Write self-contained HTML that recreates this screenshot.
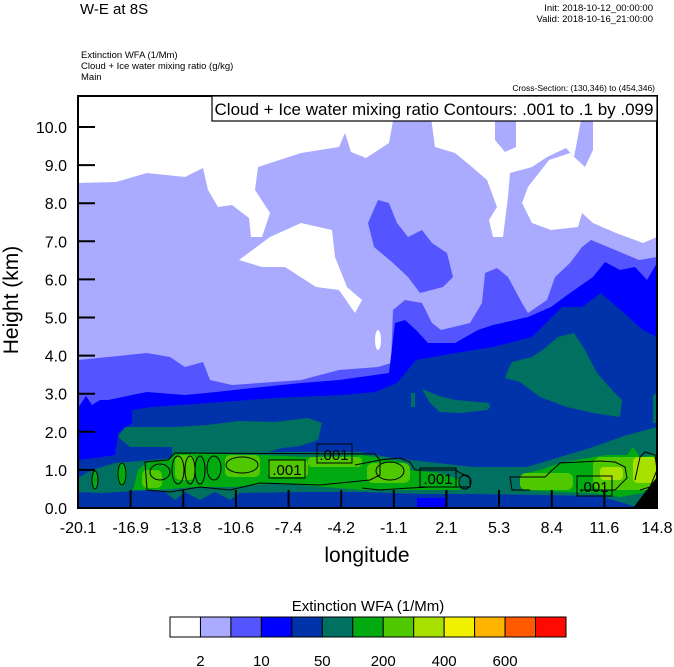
<!DOCTYPE html>
<html><head><meta charset="utf-8"><style>
html,body{margin:0;padding:0;background:#fff;}
svg{display:block;font-family:"Liberation Sans",sans-serif;}
</style></head><body>
<svg id="chart" width="674" height="667" viewBox="0 0 674 667">
<text x="80" y="14" font-size="15">W-E at 8S</text>
<text x="653" y="11" font-size="9.5" text-anchor="end">Init: 2018-10-12_00:00:00</text>
<text x="653" y="22" font-size="9.5" text-anchor="end">Valid: 2018-10-16_21:00:00</text>
<text x="81" y="58" font-size="9.5">Extinction WFA   (1/Mm)</text>
<text x="81" y="69" font-size="9.5">Cloud + Ice water mixing ratio   (g/kg)</text>
<text x="81" y="80" font-size="9.5">Main</text>
<text x="655" y="91" font-size="8.5" text-anchor="end">Cross-Section: (130,346) to (454,346)</text>

<defs><clipPath id="pc"><rect x="78" y="96" width="579" height="412"/></clipPath></defs>
<g clip-path="url(#pc)">
<rect x="78" y="96" width="579" height="412" fill="#ffffff"/>
<polygon fill="#aaaaff" points="78,183 116,182 147,173 185,177 203,168 208,190 218,207 232,205 249,218 251,237 262,237 270,213 255,190 258,167 301,153 339,147 345,133 351,152 366,158 389,143 395,110 430,110 435,147 455,153 472,167 487,180 497,207 489,220 493,237 503,237 508,197 510,173 532,167 547,157 566,148 574,157 583,110 593,110 593,150 585,167 570,153 549,160 528,187 522,203 532,223 551,230 578,227 582,213 593,223 616,233 643,243 657,237 657,508 78,508"/>
<polygon fill="#aaaaff" points="495,110 516,110 516,147 505,152 495,140"/>
<polygon fill="#ffffff" points="239,260 270,237 301,223 332,230 335,257 347,287 362,300 355,313 339,290 316,287 285,267 262,267"/>
<ellipse cx="378" cy="340" rx="3" ry="10" fill="#fff"/>
<polygon fill="#5555ff" points="78,360 108,357 147,353 170,357 185,367 203,362 210,380 232,385 301,380 339,370 378,367 391,363 393,310 405,300 422,303 432,323 441,330 470,323 482,303 485,273 497,268 508,277 522,303 528,313 547,300 555,277 570,263 582,247 591,240 608,247 639,260 657,257 657,508 78,508"/>
<polygon fill="#5555ff" points="378,200 389,203 397,223 408,237 422,230 432,243 447,253 453,277 443,287 420,293 408,277 393,263 374,247 368,223"/>
<polygon fill="#0000ff" points="78,408 86,396 92,405 100,400 108,400 132,395 147,392 185,395 216,392 262,387 301,383 339,380 389,373 395,323 405,320 416,330 428,343 455,343 478,330 493,325 528,317 551,307 570,293 593,277 605,262 620,270 635,267 647,280 657,263 657,508 78,508"/>
<polygon fill="#0033aa" points="78,460 95,458 115,455 118,433 132,423 132,410 152,407 208,403 275,398 342,395 375,392 397,383 416,360 455,353 493,347 532,337 562,307 582,307 601,293 624,313 643,330 657,337 657,508 78,508"/>
<polygon fill="#007060" points="78,492 78,478 92,470 115,463 150,460 172,458 172,447 130,447 118,437 125,427 175,427 208,425 238,421 275,422 308,418 322,423 318,440 300,446 282,448 268,452 360,452 393,458 473,467 527,467 560,457 593,447 627,435 657,427 657,495 637,507 600,496 540,495 470,494 420,494 360,492 300,492 240,493 230,500 215,492 200,500 185,492 175,500 165,492 150,490 120,492 100,493"/>
<polygon fill="#007060" points="508,370 512,362 532,357 545,348 558,337 574,333 585,350 597,373 612,390 622,400 620,417 593,413 567,407 540,397 520,382 505,378"/>
<polygon fill="#007060" points="422,389 439,396 455,400 489,403 490,407 487,410 460,413 440,412 430,403"/>
<polygon fill="#007060" points="411,393 415,393 415,407 411,407"/>
<polygon fill="#007060" points="653,395 657,393 657,423 653,423"/>
<rect x="417" y="498" width="30" height="10" fill="#0000ff"/>
<polygon fill="#00aa10" points="133,490 138,470 147,462 168,460 175,453 262,455 308,457 362,455 403,462 410,470 440,473 460,480 460,490 410,490 362,490 275,483 235,487 192,487 158,490"/>
<polygon fill="#00aa10" points="520,480 527,473 540,470 560,463 593,457 607,455 627,455 633,447 640,457 657,455 657,477 643,493 620,497 593,493 560,492 523,490"/>
<ellipse cx="95" cy="480" rx="3" ry="10" fill="#00aa10"/>
<ellipse cx="122" cy="474" rx="5" ry="12" fill="#00aa10"/>
<g fill="#50c800">
<rect x="225" y="455" width="35" height="22" rx="5"/>
<rect x="175" y="455" width="20" height="25" rx="5"/>
<rect x="142" y="470" width="20" height="18" rx="5"/>
<rect x="268" y="460" width="40" height="17" rx="4"/>
<rect x="308" y="457" width="54" height="10" rx="4"/>
<rect x="367" y="463" width="43" height="20" rx="6"/>
<rect x="520" y="473" width="53" height="17" rx="6"/>
<rect x="593" y="457" width="64" height="33" rx="8"/>
</g>
<g fill="#a8e000">
<rect x="600" y="467" width="23" height="13" rx="4"/>
<rect x="633" y="457" width="24" height="26" rx="5"/>
</g>
<polygon fill="#000" points="633,508 657,477 657,508"/>
<g fill="none" stroke="#000" stroke-width="1">
<polyline points="147,490 145,462 168,460 175,453 375,454 380,460 380,475 370,480 320,485 260,483 230,490 200,487 170,492 147,490"/>
<polyline points="355,465 380,460 400,458 410,462 415,470 455,470 470,478 470,487 430,487 410,488 380,490 362,488"/>
<ellipse cx="95" cy="480" rx="3" ry="9"/>
<ellipse cx="122" cy="474" rx="4" ry="11"/>
<ellipse cx="160" cy="472" rx="10" ry="8"/>
<ellipse cx="178" cy="470" rx="6" ry="14"/>
<ellipse cx="190" cy="470" rx="5" ry="14"/>
<ellipse cx="200" cy="470" rx="5" ry="14"/>
<ellipse cx="214" cy="468" rx="7" ry="12"/>
<ellipse cx="242" cy="465" rx="16" ry="8"/>
<ellipse cx="390" cy="471" rx="14" ry="9"/>
<ellipse cx="465" cy="482" rx="6" ry="7"/>
<polyline points="530,490 512,490 510,477 545,477 560,463 600,461 615,462 625,467 627,478 615,490 580,490"/>
<polyline points="635,480 640,457 645,452 655,455 657,470 650,487 640,490"/>
</g>
<g>
<rect x="269" y="460" width="36" height="18" fill="none" stroke="#000"/><text x="287" y="475" font-size="15" text-anchor="middle">.001</text>
<rect x="317" y="444" width="35" height="19" fill="none" stroke="#000"/><text x="334" y="460" font-size="15" text-anchor="middle">.001</text>
<rect x="420" y="468" width="36" height="19" fill="none" stroke="#000"/><text x="438" y="484" font-size="15" text-anchor="middle">.001</text>
<rect x="577" y="476" width="35" height="20" fill="none" stroke="#000"/><text x="594" y="492" font-size="15" text-anchor="middle">.001</text>
</g>
</g>
<g id="ticks"></g>
<rect x="78" y="96" width="579" height="412" fill="none" stroke="#000" stroke-width="2"/>
<rect x="212" y="96" width="445" height="25" fill="#fff" stroke="#000" stroke-width="1.2"/>
<text x="434" y="115" font-size="17" text-anchor="middle">Cloud + Ice water mixing ratio Contours: .001 to .1 by .099</text>
<text x="367" y="562" font-size="21" text-anchor="middle">longitude</text>
<text transform="translate(18,300) rotate(-90)" font-size="21" text-anchor="middle">Height (km)</text>
<text x="368" y="611" font-size="15" text-anchor="middle">Extinction WFA  (1/Mm)</text>
<g id="cbar"></g>
</svg>
<script>
const yTickLabels=["0.0","1.0","2.0","3.0","4.0","5.0","6.0","7.0","8.0","9.0","10.0"];
const yTickValues=[0,1,2,3,4,5,6,7,8,9,10];
const xTickLabels=["-20.1","-16.9","-13.8","-10.6","-7.4","-4.2","-1.1","2.1","5.3","8.4","11.6","14.8"];
const cbarColors=["#ffffff","#aaaaff","#5555ff","#0000ff","#0033aa","#007060","#00aa10","#50c800","#a8e000","#f0f000","#ffb400","#ff5a00","#ff0a00"];
const cbarLabels=["2","10","50","200","400","600"];
const NS="http://www.w3.org/2000/svg";
const yScale=v=>508-v*38.1;
const xScale=i=>78+i*579/(xTickLabels.length-1);
const ticks=document.getElementById('ticks');
function mk(tag,attrs,parent){const e=document.createElementNS(NS,tag);for(const k in attrs)e.setAttribute(k,attrs[k]);parent.appendChild(e);return e;}
yTickValues.forEach((v,i)=>{
 const y=yScale(v);
 const l=mk('line',{x1:78,x2:95,y1:y,y2:y,stroke:'#000','stroke-width':2},ticks);
 
 
 const t=mk('text',{x:67,y:y+6,'font-size':16,'text-anchor':'end'},ticks);
 
 
 t.textContent=yTickLabels[i];
});
xTickLabels.forEach((lab,i)=>{
 const x=xScale(i);
 if(i>0&&i<xTickLabels.length-1){
 const l=mk('line',{x1:x,x2:x,y1:508,y2:490,stroke:'#000','stroke-width':2},ticks);
 
 }
 const t=mk('text',{x:x,y:533,'font-size':16,'text-anchor':'middle'},ticks);
 
 
 t.textContent=lab;
});
const cb=document.getElementById('cbar');
const bw=396/cbarColors.length;
cbarColors.forEach((c,i)=>{
 const r=mk('rect',{x:170+i*bw,y:617,width:bw,height:20,fill:c,stroke:'#000','stroke-width':1},cb);
 
 
});
cbarLabels.forEach((lab,i)=>{
 const t=mk('text',{x:170+(1+2*i)*bw,y:666,'font-size':15,'text-anchor':'middle'},cb);
 
 
 t.textContent=lab;
});
</script>
</body></html>
